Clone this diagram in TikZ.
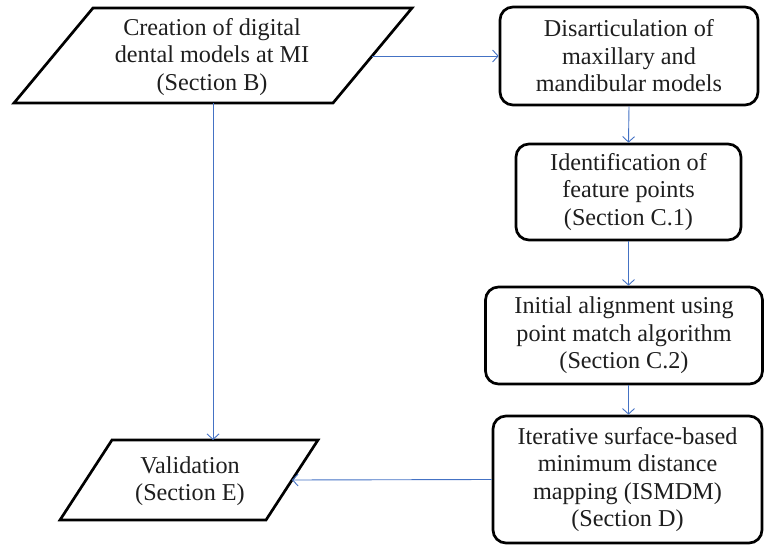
\documentclass[tikz,border=0pt]{standalone}
\usepackage{fontspec}
\setmainfont{Liberation Serif}
\usetikzlibrary{arrows.meta}
\definecolor{flowblue}{RGB}{68,114,196}
\definecolor{inkgray}{RGB}{30,30,30}
\begin{document}
\begin{tikzpicture}[x=1pt,y=-1pt,
  txt/.style={align=center,text=inkgray,font=\fontsize{24.2}{27.5}\selectfont,inner sep=0pt},
  procbox/.style={txt,draw=black,line width=2.7pt,rounded corners=13pt},
  shapeline/.style={draw=black,line width=2.7pt,line join=miter},
  flow/.style={draw=flowblue,line width=0.9pt,-{Straight Barb[length=5.5pt,width=12pt,line width=0.9pt]}}]
\useasboundingbox (0,0) rectangle (764,545);

% input / output parallelograms
\path[shapeline] (93,8) -- (412,8) -- (333,103) -- (14,103) -- cycle;
\node[txt] (create) at (212,57) {Creation of digital\\dental models at MI\\(Section B)};
\coordinate (createright) at (372,56);
\coordinate (createbottom) at (213,103);

\path[shapeline] (112,440) -- (318,440) -- (266,520) -- (60,520) -- cycle;
\node[txt] (valid) at (190,481) {Validation\\(Section E)};
\coordinate (validtop) at (213,440);
\coordinate (validright) at (292,480);

% processing steps
\node[procbox,minimum width=258pt,minimum height=98pt] (disart) at (629,56)
  {Disarticulation of\\maxillary and\\mandibular models};
\node[procbox,minimum width=225pt,minimum height=96pt] (ident) at (628.5,192)
  {Identification of\\feature points\\(Section C.1)};
\node[procbox,minimum width=277pt,minimum height=97pt] (init) at (624,335.5)
  {Initial alignment using\\point match algorithm\\(Section C.2)};
\node[procbox,minimum width=269pt,minimum height=127pt] (ismdm) at (627.5,479.5)
  {Iterative surface-based\\minimum distance\\mapping (ISMDM)\\(Section D)};

% connectors
\draw[flow] (createright) -- (disart.west |- createright);
\draw[flow] (disart.south) -- (ident.north);
\draw[flow] (ident.south) -- (ident.south |- init.north);
\draw[flow] (ident.south |- init.south) -- (ident.south |- ismdm.north);
\draw[flow] (createbottom) -- (validtop);
\draw[flow] (ismdm.west) -- (validright);
\end{tikzpicture}
\end{document}
